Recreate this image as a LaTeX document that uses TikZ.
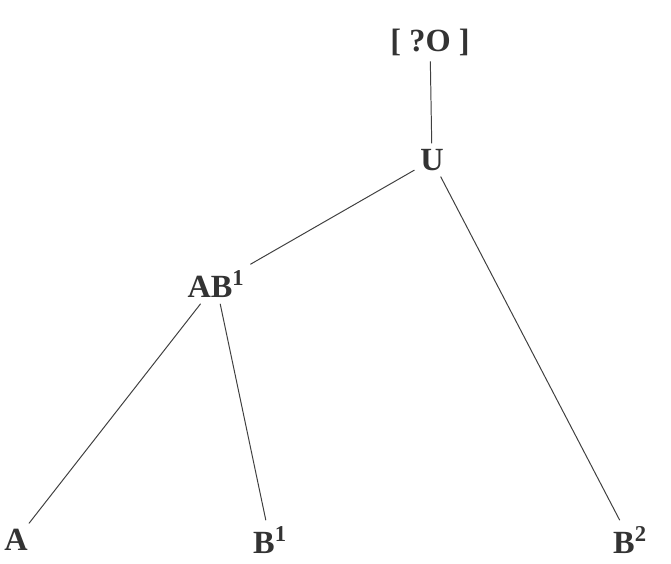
\documentclass[tikz,border=0pt]{standalone}
\usepackage{fontspec}
\setmainfont{Liberation Serif}
\usetikzlibrary{positioning}

\begin{document}
\begin{tikzpicture}[
    witness/.style={
        inner sep=4pt,
        text=black!80,
        font=\fontsize{23}{25}\selectfont\bfseries
    },
    branch/.style={draw=black!75, line width=0.7pt}
]
\useasboundingbox[fill=white] (0,0) rectangle (16.775,-14.075);

% Archetype
\node[witness] (arch) at (10.75, -1.05) {[ ?O ]};

% Hyparchetype
\node[witness] (u) at (10.8, -4.0) {U};

% Intermediate copy
\node[witness] (ab) at (5.4, -7.1) {AB\textsuperscript{1}};

% Extant witnesses
\node[witness] (a) at (0.4, -13.5) {A};
\node[witness] (b1) at (6.75, -13.5) {B\textsuperscript{1}};
\node[witness] (b2) at (15.75, -13.5) {B\textsuperscript{2}};

% Branches
\draw[branch] (arch) -- (u);
\draw[branch] (u) -- (ab);
\draw[branch] (u) -- (b2);
\draw[branch] (ab) -- (a);
\draw[branch] (ab) -- (b1);

\end{tikzpicture}
\end{document}
